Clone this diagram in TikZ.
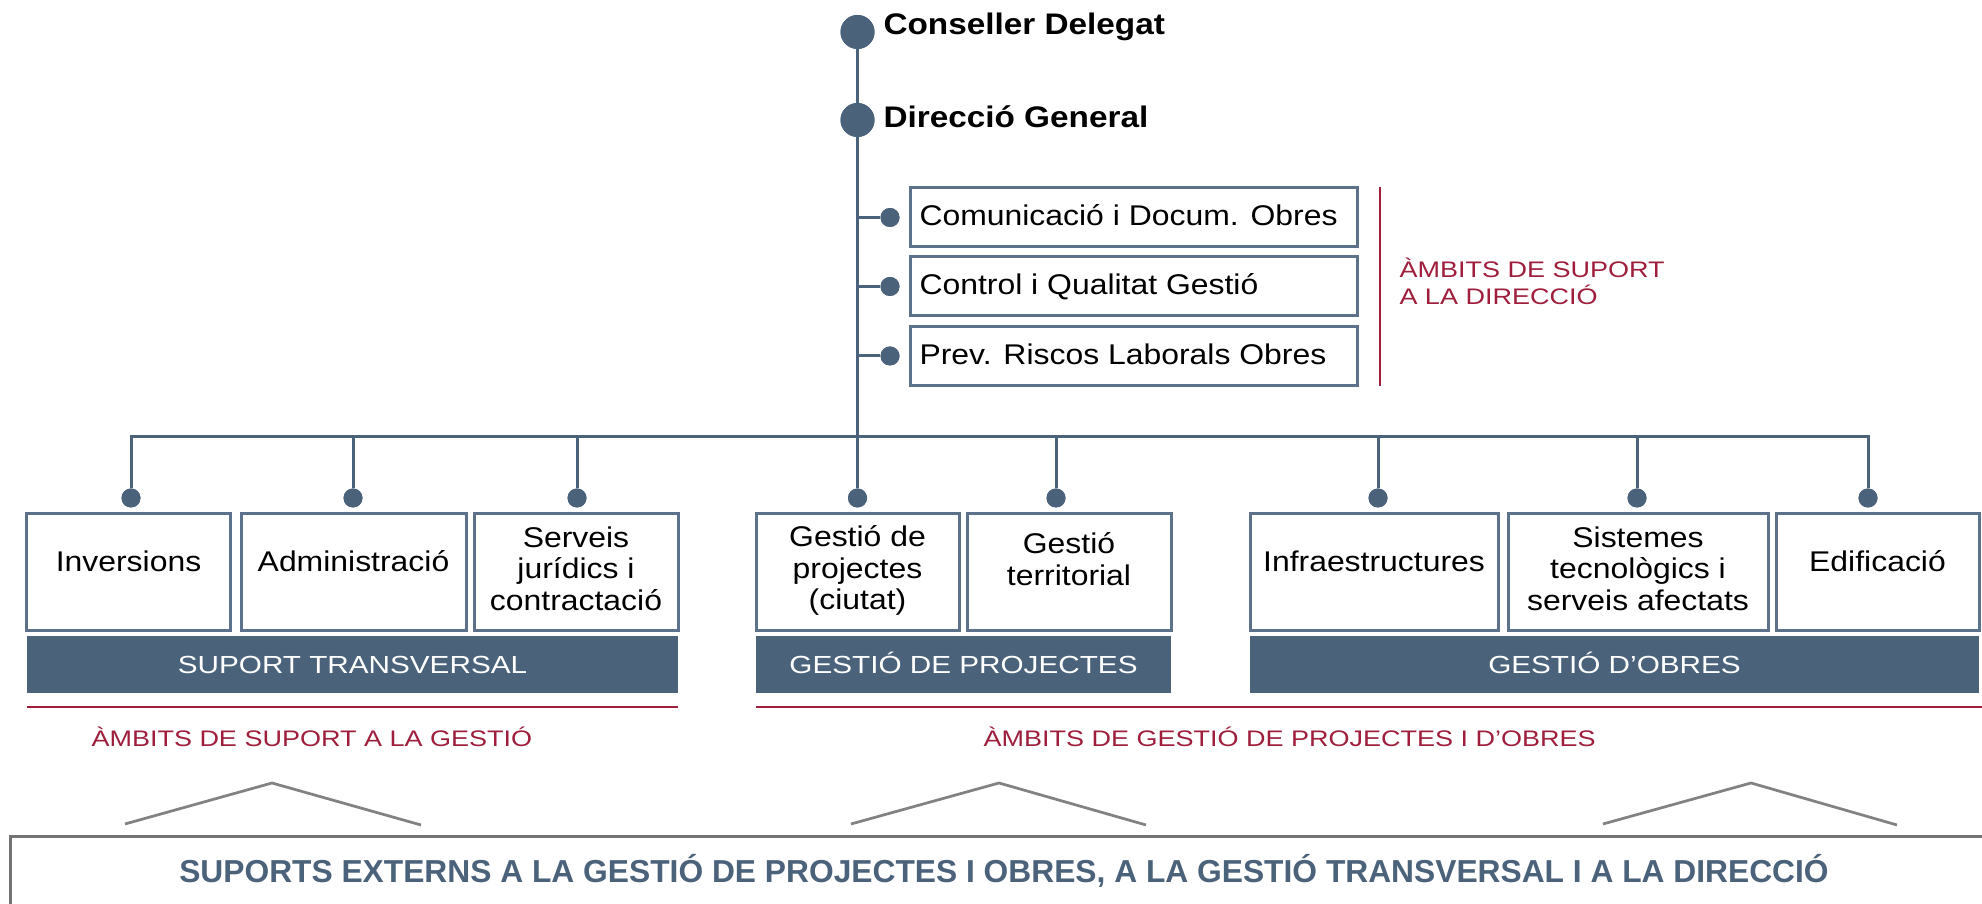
\documentclass[tikz,border=0pt]{standalone}
\usepackage{fontspec}
\setmainfont{Liberation Sans}[FakeStretch=1.12]
\newfontfamily\widesans{Liberation Sans}[FakeStretch=1.2]
\newfontfamily\plainsans{Liberation Sans}
\definecolor{slate}{RGB}{74,98,122}
\definecolor{boxline}{RGB}{92,114,138}
\definecolor{ambred}{RGB}{158,30,60}
\definecolor{chev}{RGB}{130,130,130}
\definecolor{outerline}{RGB}{115,115,115}
\begin{document}
\begin{tikzpicture}[x=0.4pt, y=-0.4pt,
  conn/.style={draw=slate, line width=1.2pt},
  bigdot/.style={circle, fill=slate, minimum size=13.6pt, inner sep=0pt},
  smalldot/.style={circle, fill=slate, minimum size=7.6pt, inner sep=0pt},
  orgbox/.style={rectangle, draw=boxline, line width=1.2pt, fill=white, inner sep=0pt, minimum height=46.8pt},
  subbox/.style={rectangle, draw=boxline, line width=1.2pt, fill=white, inner sep=0pt, minimum width=178.8pt, minimum height=23.6pt},
  toplbl/.style={inner sep=0pt, font=\bfseries\fontsize{11.9}{14}\selectfont},
  sublbl/.style={inner sep=0pt, font=\fontsize{11.4}{12.7}\selectfont},
  boxlbl/.style={inner sep=0pt, align=center, font=\fontsize{11.4}{12.7}\selectfont},
  banner/.style={rectangle, fill=slate, inner sep=0pt, minimum height=22.8pt, text=white, text height=7pt, text depth=0pt, font=\widesans\fontsize{9.9}{12}\selectfont},
  redlbl/.style={inner sep=0pt, text=ambred, font=\widesans\fontsize{9}{11}\selectfont},
  redrule/.style={draw=ambred, line width=1pt},
  chevline/.style={draw=chev, line width=1.1pt},
]
\useasboundingbox (0,0) rectangle (1982,904);

% top
\node[bigdot] (cd) at (857.5,32) {};
\node[bigdot] (dg) at (857.5,120) {};
\node[toplbl, anchor=base west] (cdt) at (883,35) {Conseller Delegat};
\node[toplbl, anchor=base west] (dgt) at (883,128) {Direcció General};

% bus and drops
\coordinate (bus) at (857.5,437);
\node[smalldot] (d1) at (131,498) {};
\node[smalldot] (d2) at (353,498) {};
\node[smalldot] (d3) at (577,498) {};
\node[smalldot] (d4) at (857.5,498) {};
\node[smalldot] (d5) at (1056,498) {};
\node[smalldot] (d6) at (1378,498) {};
\node[smalldot] (d7) at (1637,498) {};
\node[smalldot] (d8) at (1868,498) {};

% sub boxes dots
\node[smalldot] (s1) at (890,217.5) {};
\node[smalldot] (s2) at (890,286.5) {};
\node[smalldot] (s3) at (890,356) {};

\draw[conn] (cd) -- (d4);
\draw[conn] (s1) -- (s1 -| cd);
\draw[conn] (s2) -- (s2 -| cd);
\draw[conn] (s3) -- (s3 -| cd);
\foreach \d in {d1,d2,d3,d5,d6,d7,d8} \draw[conn] (\d) |- (bus);
\node[bigdot] at (cd) {};
\node[bigdot] at (dg) {};
\foreach \d in {d1,d2,d3,d4,d5,d6,d7,d8,s1,s2,s3} \node[smalldot] at (\d) {};

% support boxes
\node[subbox] (sb1) at (1133.5,217.5) {};
\node[subbox] (sb2) at (1133.5,286.5) {};
\node[subbox] (sb3) at (1133.5,356) {};
\node[sublbl, anchor=base west] (sb1t) at (919,226) {Comunicació i Docum. Obres};
\node[sublbl, anchor=base west] (sb2t) at (919,295) {Control i Qualitat Gestió};
\node[sublbl, anchor=base west] (sb3t) at (919,364.5) {Prev. Riscos Laborals Obres};

\draw[redrule] (1380,187) -- (1380,386);
\node[redlbl, anchor=base west] (rt1) at (1399,278) {ÀMBITS DE SUPORT};
\node[redlbl, anchor=base west] (rt2) at (1399,305) {A LA DIRECCIÓ};

% lower boxes
\node[orgbox, minimum width=81.2pt] (inv) at (128.5,572.5) {};
\node[orgbox, minimum width=90pt] (adm) at (353.5,572.5) {};
\node[orgbox, minimum width=81.6pt] (ser) at (576,572.5) {};
\node[orgbox, minimum width=81.2pt] (gpc) at (857.5,572.5) {};
\node[orgbox, minimum width=81.6pt] (gte) at (1069,572.5) {};
\node[orgbox, minimum width=99.2pt] (inf) at (1374,572.5) {};
\node[orgbox, minimum width=104pt] (sis) at (1638,572.5) {};
\node[orgbox, minimum width=81.2pt] (edi) at (1877.5,572.5) {};

\node[boxlbl, anchor=base] (invt) at (128.5,572) {Inversions};
\node[boxlbl, anchor=base] (admt) at (353.5,572) {Administració};
\node[boxlbl, anchor=north] (sert) at (576,526) {Serveis\\jurídics i\\contractació};
\node[boxlbl, anchor=north] (gpct) at (857.5,525) {Gestió de\\projectes\\(ciutat)};
\node[boxlbl, anchor=north] (gtet) at (1069,532) {Gestió\\territorial};
\node[boxlbl, anchor=base] (inft) at (1374,572) {Infraestructures};
\node[boxlbl, anchor=north] (sist) at (1638,526) {Sistemes\\tecnològics i\\serveis afectats};
\node[boxlbl, anchor=base] (edit) at (1877.5,572) {Edificació};

% banners
\node[banner, minimum width=260.4pt] (bst) at (352.5,664.5) {SUPORT TRANSVERSAL};
\node[banner, minimum width=166pt] (bgp) at (963.5,664.5) {GESTIÓ DE PROJECTES};
\node[banner, minimum width=291.6pt] (bgo) at (1614.5,664.5) {GESTIÓ D’OBRES};

% red rules and labels
\draw[redrule] (27,707) -- (678,707);
\draw[redrule] (756,707) -- (1990,707);
\node[redlbl, anchor=base west] (rl1) at (91,747) {ÀMBITS DE SUPORT A LA GESTIÓ};
\node[redlbl, anchor=base west] (rl2) at (983,747) {ÀMBITS DE GESTIÓ DE PROJECTES I D’OBRES};

% chevrons
\coordinate (c1a) at (125,824); \coordinate (c1b) at (272,783); \coordinate (c1c) at (421,825);
\coordinate (c2a) at (851,824); \coordinate (c2b) at (999,783); \coordinate (c2c) at (1146,825);
\coordinate (c3a) at (1603,824); \coordinate (c3b) at (1751,783); \coordinate (c3c) at (1897,825);
\draw[chevline] (c1a) -- (c1b) -- (c1c);
\draw[chevline] (c2a) -- (c2b) -- (c2c);
\draw[chevline] (c3a) -- (c3b) -- (c3c);

% outer support box
\coordinate (ob1) at (10,930);
\coordinate (ob2) at (10,837);
\coordinate (ob3) at (2000,837);
\draw[draw=outerline, line width=1.2pt] (ob1) -- (ob2) -- (ob3);
\node[inner sep=0pt, anchor=base, text=slate, font=\plainsans\bfseries\fontsize{12.7}{14}\selectfont] (ext) at (1004,883) {SUPORTS EXTERNS A LA GESTIÓ DE PROJECTES I OBRES, A LA GESTIÓ TRANSVERSAL I A LA DIRECCIÓ};
\end{tikzpicture}
\end{document}
